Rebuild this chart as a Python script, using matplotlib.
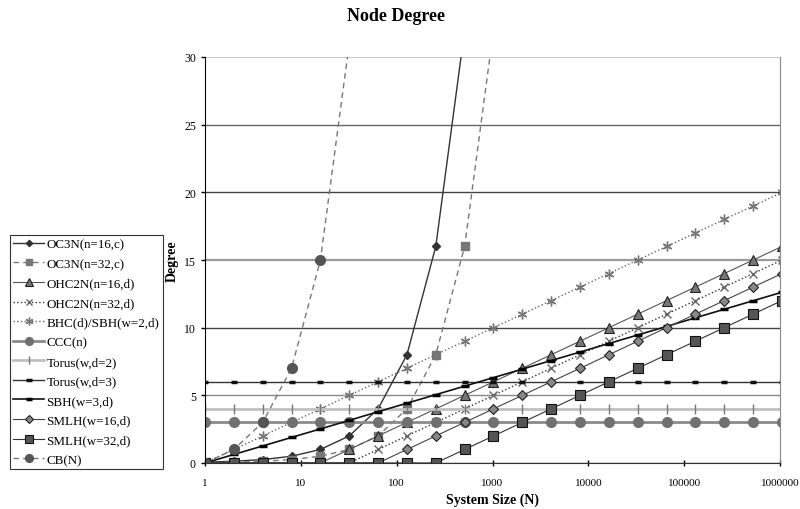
import matplotlib
matplotlib.use("Agg")
import matplotlib.pyplot as plt
from matplotlib.ticker import FixedLocator, NullLocator, FixedFormatter

plt.rcParams['font.family'] = ['Liberation Serif', 'DejaVu Serif']

# system sizes (powers of two), last one sits just past the right edge
N = [1, 2, 4, 8, 16, 32, 64, 128, 256, 512, 1024, 2048, 4096, 8192, 16384,
     32768, 65536, 131072, 262144, 524288, 1048576]

oc3n_16 = [0.06, 0.13, 0.25, 0.5, 1, 2, 4, 8, 16, 32]
oc3n_32 = [0.03, 0.06, 0.13, 0.25, 0.5, 1, 2, 4, 8, 16, 32]
ohc2n_16 = [0, 0, 0, 0, 0, 1, 2, 3, 4, 5, 6, 7, 8, 9, 10, 11, 12, 13, 14, 15, 16]
ohc2n_32 = [0, 0, 0, 0, 0, 0, 1, 2, 3, 4, 5, 6, 7, 8, 9, 10, 11, 12, 13, 14, 15]
bhc_sbh2 = [0, 1, 2, 3, 4, 5, 6, 7, 8, 9, 10, 11, 12, 13, 14, 15, 16, 17, 18, 19, 20]
ccc = [3] * 21
torus_d2 = [4] * 21
torus_d3 = [6] * 21
sbh_w3 = [0, 0.63, 1.26, 1.89, 2.52, 3.15, 3.79, 4.42, 5.05, 5.68, 6.31, 6.94,
          7.57, 8.20, 8.83, 9.46, 10.09, 10.73, 11.36, 11.99, 12.62]
smlh_16 = [0, 0, 0, 0, 0, 0, 0, 1, 2, 3, 4, 5, 6, 7, 8, 9, 10, 11, 12, 13, 14]
smlh_32 = [0, 0, 0, 0, 0, 0, 0, 0, 0, 1, 2, 3, 4, 5, 6, 7, 8, 9, 10, 11, 12]
cb = [0, 1, 3, 7, 15, 31]

y_ticks = [0, 5, 10, 15, 20, 25, 30]
x_ticks = [1, 10, 100, 1000, 10000, 100000, 1000000]
x_labels = ['1', '10', '100', '1000', '10000', '100000', '1000000']

fig = plt.figure(figsize=(8, 5.1), dpi=100)
ax = fig.add_axes([205 / 800, 1 - 464 / 510, 575 / 800, 406 / 510])

# horizontal grid
grid_colors = ['#444', '#888', '#444', '#9a9a9a', '#444', '#666', '#c8c8c8']
grid_widths = [1, 1, 1, 1.6, 1, 1, 1.4]
for yv, c, w in zip(y_ticks, grid_colors, grid_widths):
    ax.axhline(yv, color=c, lw=w, zorder=0)

ax.plot(N[:len(oc3n_16)], oc3n_16, '-', color='#333', lw=1, marker='D', ms=4,
        mfc='#333', mec='#333', label='OC3N(n=16,c)')
ax.plot(N[:len(oc3n_32)], oc3n_32, '--', color='#777', lw=1, marker='s', ms=6,
        mfc='#777', mec='#777', dashes=(4, 3), label='OC3N(n=32,c)')
ax.plot(N, ohc2n_16, '-', color='#555', lw=0.8, marker='^', ms=6.5,
        mfc='#777', mec='#222', mew=0.8, label='OHC2N(n=16,d)')
ax.plot(N, ohc2n_32, ':', color='#333', lw=1, marker='x', ms=6,
        mec='#666', mew=1, label='OHC2N(n=32,d)')
ax.plot(N, bhc_sbh2, ':', color='#666', lw=1, marker=(6, 2, 0), ms=7,
        mec='#777', mew=1, label='BHC(d)/SBH(w=2,d)')
ax.plot(N, ccc, '-', color='#8a8a8a', lw=2, marker='o', ms=7,
        mfc='#707070', mec='#707070', label='CCC(n)')
ax.plot(N, torus_d2, '-', color='#c0c0c0', lw=2, marker='|', ms=7,
        mec='#777', mew=1, label='Torus(w,d=2)')
ax.plot(N, torus_d3, '-', color='#333', lw=1, marker='_', ms=5,
        mec='#111', mew=2.5, label='Torus(w,d=3)')
ax.plot(N, sbh_w3, '-', color='#111', lw=1.2, marker='_', ms=6,
        mec='#000', mew=2.5, label='SBH(w=3,d)')
ax.plot(N, smlh_16, '-', color='#444', lw=0.8, marker='D', ms=5,
        mfc='#888', mec='#222', mew=0.8, label='SMLH(w=16,d)')
ax.plot(N, smlh_32, '-', color='#333', lw=0.8, marker='s', ms=6.5,
        mfc='#555', mec='#111', mew=0.8, label='SMLH(w=32,d)')
ax.plot(N[:len(cb)], cb, '--', color='#777', lw=1, marker='o', ms=7,
        mfc='#555', mec='#555', dashes=(4, 3), label='CB(N)')

ax.set_xscale('log')
ax.set_xlim(1, 1000000)
ax.set_ylim(0, 30)
ax.xaxis.set_major_locator(FixedLocator(x_ticks))
ax.xaxis.set_major_formatter(FixedFormatter(x_labels))
ax.xaxis.set_minor_locator(NullLocator())
ax.set_yticks(y_ticks)
ax.tick_params(axis='y', labelsize=8.5, length=3, width=1)
ax.tick_params(axis='x', labelsize=8, direction='inout', length=5, width=1, pad=8)

ax.spines['top'].set_visible(False)
ax.spines['left'].set_color('#000')
ax.spines['bottom'].set_color('#333')
ax.spines['right'].set_color('#888')

ax.set_xlabel('System Size (N)', fontsize=10, fontweight='bold', labelpad=4)
ax.set_ylabel('Degree', fontsize=10, fontweight='bold')
ax.yaxis.set_label_coords(-0.045, 0.5)
fig.suptitle('Node Degree', fontsize=13, fontweight='bold', x=0.495, y=0.985)

leg = fig.legend(loc='upper left', bbox_to_anchor=(10 / 800, 1 - 236 / 510),
                 fontsize=9.4, frameon=True, fancybox=False, edgecolor='#333',
                 framealpha=1, handlelength=2.35, handletextpad=0.2,
                 labelspacing=0.57, borderpad=0.25, borderaxespad=0,
                 markerscale=0.8)
leg.get_frame().set_linewidth(0.8)

fig.savefig('out.png', dpi=100)
